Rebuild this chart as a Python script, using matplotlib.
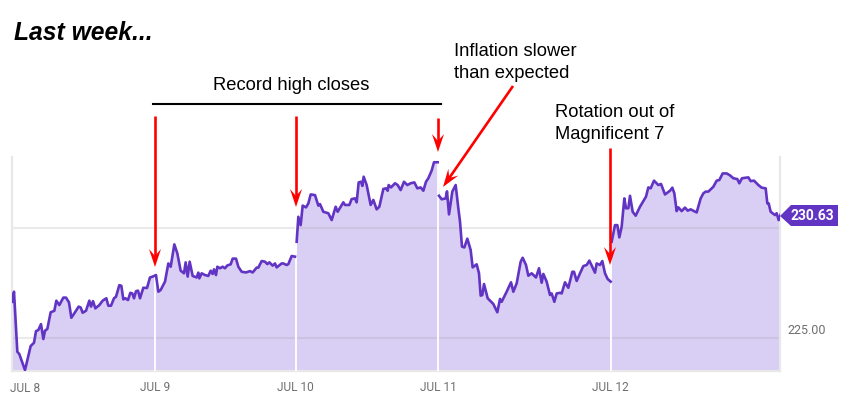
import matplotlib
matplotlib.use('Agg')
import matplotlib.pyplot as plt
from matplotlib.patches import Polygon
import numpy as np

# intraday bars, one list of bar numbers and one of prices per stretch of line
bars_a = [36,42,52,58,75,92,102,108,115,123,130,135,142,152,163,169,178,190,198,207,214,225,236,242,248,258,268,273,279,286,
          298,308,319,325,333,342,348,358,364,370,376,384,391,397,402,408,414,420,430,441,450,458,468,475,482,495,505,512,523,532,
          542,552,557,563,569,578,590,595,598,605,615,625,632,638,642,648,652,660,668,675,682,692,698,708,715,725,738,750,758,770,
          775,785,795,802,808,818,825,830,845,850,860,865,875,885]
price_a = [226.64,227.10,224.36,224.25,223.52,224.62,224.77,225.30,225.35,225.62,224.94,225.32,225.40,226.16,226.23,226.69,226.49,226.83,226.83,226.61,225.91,226.16,226.42,226.38,226.14,226.23,226.69,226.42,226.67,226.34,
           226.49,226.69,226.80,226.46,226.46,226.80,226.87,227.40,227.37,226.75,226.80,226.72,227.05,227.02,226.80,227.12,227.15,226.80,227.28,227.27,227.75,227.79,227.86,227.10,227.18,227.56,228.39,228.24,229.26,228.85,
           228.06,227.94,228.44,227.79,228.47,227.82,227.75,227.97,227.71,227.94,227.86,227.82,228.06,227.91,228.12,227.86,228.24,228.17,228.24,228.17,228.30,228.35,228.61,228.61,228.24,228.01,227.98,228.04,227.98,228.20,
           228.20,228.50,228.47,228.36,228.44,228.29,228.39,228.21,228.39,228.39,228.32,228.36,228.73,228.70]

bars_b = [50,55,62,68,78,85,92,105,115,120,130,145,155,167,173,190,195,208,215,225,230,236,243,247,251,260,272,280,290,298,
          310,318,323,326,333,345,353,362,372,382,392,403,412,422,430,438,445,455,462,473]
price_b = [229.38,230.52,230.14,231.03,230.95,231.13,231.54,231.51,231.03,231.10,230.75,230.68,230.37,230.98,230.75,231.18,231.06,231.06,231.33,231.36,231.18,232.09,232.12,231.93,232.35,231.97,231.06,231.29,230.86,230.98,
           231.79,231.82,231.71,231.97,231.86,232.05,231.97,231.74,232.12,231.97,232.05,232.09,231.82,231.86,231.71,232.12,232.28,232.63,233.01,233.01]

bars_c = [477,485,497,501,507,517,527,535,540,546,553,562,572,578,590,597,602,607,612,618,623,640,652,660,665,680,693,700,710,722,
          728,738,745,755,768,777,785,790,800,810,815,823,830,840,845,855,865,877,882,890,900,910,920,928,945,950,960,967,975,983,992]
price_c = [231.48,231.32,231.36,231.68,230.63,231.67,231.97,230.91,230.30,229.16,229.12,229.52,229.00,228.21,228.35,227.94,226.92,226.95,227.45,227.10,226.80,226.54,226.16,226.77,226.64,227.10,227.53,227.10,227.48,228.47,
           228.65,228.32,227.83,227.94,227.75,228.17,227.51,227.91,227.56,226.95,227.02,226.64,227.02,227.05,227.02,227.53,227.28,228.01,228.01,227.59,227.94,228.27,228.32,228.52,227.97,228.39,228.32,228.50,227.94,227.68,227.56]

bars_d = [215,225,232,238,245,253,258,265,270,278,287,300,318,325,332,342,355,363,375,390,397,403,410,415,425,435,443,452,462,470,
          482,490,497,505,520,530,538,548,560,570,580,592,598,606,625,632,642,655,665,677,682,686,692,705,710,716,722]
price_d = [229.38,230.14,230.14,229.58,230.07,231.36,230.91,230.91,231.48,230.75,230.57,230.98,231.44,231.86,231.82,232.17,231.97,232.02,231.54,231.71,231.85,231.59,230.78,230.95,230.78,230.94,230.80,230.86,230.78,230.72,
           231.36,231.59,231.67,231.67,231.89,232.17,232.20,232.50,232.50,232.41,232.28,232.24,232.05,232.28,232.32,232.15,232.17,231.97,231.85,231.82,231.13,231.13,230.75,230.60,230.68,230.37,230.63]

day_bars = [466, 887, 1315, 1832]
day_labels = ['JUL 9', 'JUL 10', 'JUL 11', 'JUL 12']
grid_prices = [225.0, 230.0]
last_price = 230.63

PURPLE = '#6234C4'
FILL = '#D9CEF3'
GREY = '#6F6F6F'

stretches = [
    (np.array(bars_a), price_a),
    (np.array(bars_b) + 840, price_b),
    (np.array(bars_c) + 840, price_c),
    (np.array(bars_d) + 1620, price_d),
]

fig = plt.figure(figsize=(8.42, 4.0), dpi=100)
ax = fig.add_axes([12 / 842, 29 / 400, 768 / 842, 214 / 400])
ax.set_xlim(36, 2340)
ax.set_ylim(223.48, 233.25)

all_x = np.concatenate([s[0] for s in stretches])
all_y = np.concatenate([s[1] for s in stretches])
ax.fill_between(all_x, all_y, 223.48, color=FILL, linewidth=0, zorder=1)
for p in grid_prices:
    ax.axhline(p, color='#999999', alpha=0.2, linewidth=1.5, zorder=2)
for b in day_bars:
    ax.axvline(b, color='white', linewidth=1.3, zorder=3)
for xs, ys in stretches:
    ax.plot(xs, ys, color=PURPLE, linewidth=1.9, solid_joinstyle='round', zorder=4)

for side in ['top']:
    ax.spines[side].set_visible(False)
for side in ['left', 'right', 'bottom']:
    ax.spines[side].set_color('#E8E8E8')
    ax.spines[side].set_linewidth(1.6)
ax.set_xticks(day_bars)
ax.set_xticklabels(day_labels, family='Roboto', fontsize=8.6, color=GREY)
ax.set_yticks([])
ax.tick_params(axis='x', length=0, pad=7)

# overlay in picture pixels for the hand drawn notes
ann = fig.add_axes([0, 0, 1, 1], facecolor='none')
ann.set_xlim(0, 842)
ann.set_ylim(400, 0)
ann.axis('off')


def red_arrow(x0, y0, x1, y1):
    d = np.array([x1 - x0, y1 - y0], dtype=float)
    d /= np.hypot(*d)
    n = np.array([-d[1], d[0]])
    tip = np.array([x1, y1], dtype=float)
    ann.plot([x0, x1 - d[0] * 8], [y0, y1 - d[1] * 8], color='#FF0000', linewidth=1.9, zorder=6,
             solid_capstyle='butt')
    head = [tip, tip - d * 18 + n * 6, tip - d * 11, tip - d * 18 - n * 6]
    ann.add_patch(Polygon(head, closed=True, color='#FF0000', linewidth=0, zorder=6))


red_arrow(155, 116, 155, 267)
red_arrow(296, 116, 296, 207)
red_arrow(438, 118, 438, 152)
red_arrow(513, 86, 443, 187)
red_arrow(610, 148, 610, 265)
ann.plot([153, 441], [104, 104], color='black', linewidth=1.5)

ann.text(14, 33, 'Last week...', family='Liberation Sans', fontsize=17.7, fontweight='bold',
         fontstyle='italic', va='center', ha='left')
ann.text(291.5, 85, 'Record high closes', family='Liberation Sans', fontsize=13.2, va='center', ha='center')
ann.text(454, 62.5, 'Inflation slower\nthan expected', family='Liberation Sans', fontsize=13.2, va='center',
         ha='left', linespacing=1.4)
ann.text(555, 123.5, 'Rotation out of\nMagnificent 7', family='Liberation Sans', fontsize=13.2, va='center',
         ha='left', linespacing=1.4)
ann.text(25, 388, 'JUL 8', family='Roboto', fontsize=8.6, color=GREY, va='center', ha='center')
ann.text(787, 331, '225.00', family='Roboto', fontsize=9, color=GREY, va='center', ha='left')

ann.add_patch(Polygon([(780, 216), (791, 205), (838, 205), (838, 226), (791, 226)], closed=True,
                      color=PURPLE, linewidth=0))
ann.text(812, 216, f'{last_price:.2f}', family='Roboto', fontsize=10, fontweight='bold', color='white',
         va='center', ha='center')

fig.savefig('out.png', dpi=100)
